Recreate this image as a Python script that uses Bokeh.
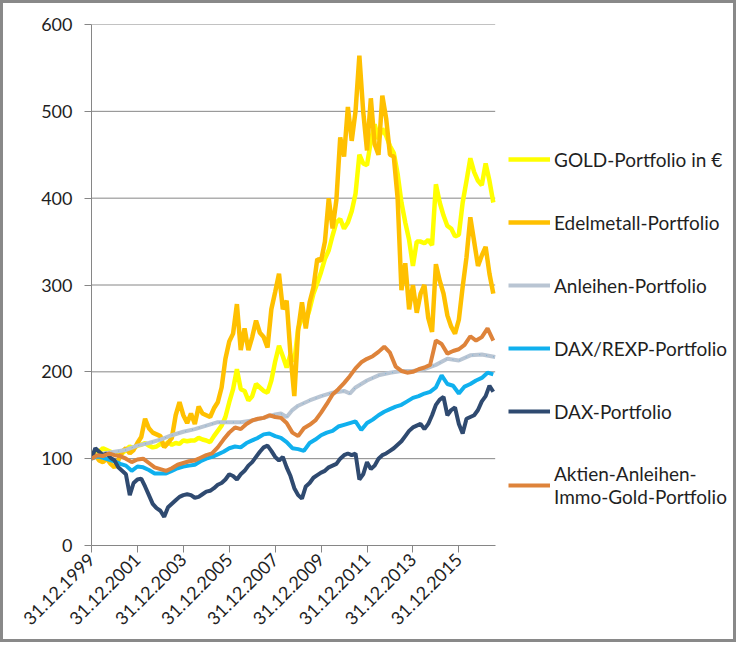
import math
from bokeh.plotting import figure
from bokeh.models import Range1d, FixedTicker, Legend, LegendItem
from bokeh.embed import file_html
from bokeh.resources import INLINE

# ---- data (months since 31.12.1999, index values) ----
tick_months = [0, 24, 48, 72, 96, 120, 144, 168, 192]
tick_labels = ["31.12.1999", "31.12.2001", "31.12.2003", "31.12.2005", "31.12.2007",
               "31.12.2009", "31.12.2011", "31.12.2013", "31.12.2015"]
y_ticks = [0, 100, 200, 300, 400, 500, 600]
x_first, x_last = 0, 211

series_names = ["GOLD-Portfolio in €", "Edelmetall-Portfolio", "Anleihen-Portfolio",
                "DAX/REXP-Portfolio", "DAX-Portfolio", "Aktien-Anleihen-\nImmo-Gold-Portfolio"]

months_2 = list(range(0, 211, 2))
months_3 = list(range(0, 211, 3))

gold = [
    100, 110, 108, 112, 110, 108, 106, 104, 106, 110,
    114, 112, 115, 116, 118, 115, 113, 114, 117, 115,
    119, 116, 118, 117, 121, 120, 121, 121, 124, 122,
    121, 119, 126, 132, 138, 148, 165, 180, 203, 180,
    178, 167, 172, 186, 182, 178, 176, 190, 212, 230,
    218, 205, 220, 212, 250, 262, 258, 272, 290, 302,
    315, 330, 340, 357, 372, 376, 365, 372, 385, 405,
    450, 440, 438, 466, 485, 468, 480, 472, 460, 452,
    428, 395, 372, 352, 322, 350, 350, 348, 352, 346,
    416, 395, 380, 368, 365, 356, 358, 395, 420, 446,
    430, 420, 415, 440, 420, 395]

edel = [
    100, 104, 98, 96, 100, 94, 90, 98, 108, 112,
    106, 110, 118, 125, 146, 135, 130, 128, 126, 113,
    118, 124, 150, 165, 150, 141, 152, 140, 160, 152,
    150, 148, 158, 165, 182, 215, 235, 244, 278, 225,
    250, 225, 240, 259, 245, 240, 228, 272, 292, 313,
    272, 282, 220, 172, 248, 280, 250, 280, 297, 330,
    328, 350, 400, 365, 398, 470, 448, 505, 466, 500,
    564, 500, 455, 515, 462, 450, 518, 492, 450, 448,
    400, 294, 325, 272, 300, 268, 290, 300, 262, 246,
    324, 305, 290, 265, 252, 244, 260, 298, 332, 378,
    350, 322, 334, 344, 313, 290]

anl_months = [0, 6, 12, 18, 24, 30, 36, 42, 48, 54, 60, 66, 72, 78, 84, 90, 96, 99, 102,
              105, 108, 114, 120, 126, 132, 135, 138, 144, 150, 156, 162, 168, 174, 180,
              186, 192, 198, 204, 211]
anleihen = [100, 106, 108, 110, 115, 118, 122, 127, 131, 134,
            138, 142, 142, 142, 144, 147, 151, 152, 148, 156,
            161, 167, 172, 176, 178, 175, 182, 190, 196, 199,
            201, 201, 203, 208, 215, 213, 219, 220, 217]

daxrexp = [
    100, 103, 101, 99, 97, 94, 92, 86, 91, 90,
    87, 83, 83, 83, 86, 89, 91, 92, 93, 97,
    100, 102, 105, 108, 112, 114, 113, 118, 121, 124,
    128, 129, 126, 124, 119, 112, 111, 109, 118, 122,
    127, 130, 132, 137, 139, 141, 143, 133, 141, 145,
    150, 154, 157, 160, 162, 166, 170, 172, 175, 177,
    182, 196, 186, 184, 175, 183, 186, 190, 193, 199,
    197]

dax = [
    100, 112, 108, 104, 106, 101, 98, 90, 86, 82,
    58, 72, 76, 77, 68, 58, 48, 43, 40, 33,
    44, 48, 52, 56, 58, 59, 58, 55, 56, 59,
    62, 63, 66, 70, 72, 76, 82, 80, 76, 82,
    86, 92, 96, 102, 108, 113, 115, 109, 102, 98,
    102, 90, 80, 66, 58, 54, 68, 72, 78, 81,
    84, 86, 90, 92, 94, 100, 104, 106, 104, 106,
    76, 82, 96, 88, 92, 100, 104, 106, 109, 112,
    116, 120, 126, 132, 136, 138, 140, 134, 140, 150,
    162, 168, 171, 150, 156, 159, 140, 129, 146, 148,
    150, 156, 166, 172, 184, 177]

mix = [
    100, 104, 103, 106, 104, 103, 100, 96, 99, 100,
    95, 90, 88, 86, 89, 93, 95, 97, 98, 101,
    104, 106, 113, 122, 130, 136, 134, 140, 144, 146,
    147, 150, 148, 147, 141, 130, 126, 135, 139, 144,
    153, 163, 174, 180, 187, 195, 204, 211, 215, 218,
    223, 229, 222, 206, 201, 199, 200, 203, 205, 208,
    236, 232, 221, 224, 226, 231, 241, 236, 240, 250,
    236]

colors = ["#FFFF00", "#FFC000", "#B9C5D3", "#10B0EE", "#2F4A70", "#DE833A"]

# ---- geometry ----
BORDER = 3
W, H = 730, 636                       # content size; CSS border adds 2*BORDER
canvas_w = W + 2 * BORDER             # size that Bokeh lays out on
left, right, top, bottom = 88, 8, 21, 100
frame_w = canvas_w - left - right
data_px = 403.7                      # pixel width of the dated part of the axis
x_end = x_last * frame_w / data_px   # extra room on the right holds the legend

p = figure(width=W, height=H, output_backend="svg", toolbar_location=None,
           x_range=Range1d(x_first, x_end), y_range=Range1d(0, 600),
           min_border_left=left, min_border_right=right, min_border_top=top,
           min_border_bottom=bottom)
p.styles = {"border": f"{BORDER}px solid #898989", "box-sizing": "content-box"}
p.outline_line_color = None
p.background_fill_color = "white"
p.border_fill_color = "white"
p.xgrid.grid_line_color = None
p.ygrid.grid_line_color = None

p.yaxis.ticker = FixedTicker(ticks=y_ticks)
p.xaxis.ticker = FixedTicker(ticks=tick_months)
p.xaxis.major_label_overrides = {m: l for m, l in zip(tick_months, tick_labels)}
p.xaxis.bounds = (x_first, x_last)

for ax in (p.xaxis[0], p.yaxis[0]):
    ax.axis_line_color = "#868686"
    ax.major_tick_line_color = "#868686"
    ax.major_tick_out = 7
    ax.major_tick_in = 0
    ax.minor_tick_line_color = None
    ax.major_label_text_font = "Lato"
    ax.major_label_text_font_size = "18px"
    ax.major_label_text_color = "#1f1f1f"
p.yaxis.major_label_standoff = 12
p.xaxis.major_label_orientation = math.pi / 4
p.xaxis.major_label_standoff = 4

# horizontal gridlines limited to the dated part of the axis
grid_y = y_ticks[1:]
p.segment(x0=[x_first] * len(grid_y), y0=grid_y, x1=[x_last] * len(grid_y), y1=grid_y,
          line_color="#868686", line_width=1)

r_gold = p.line(months_2, gold, line_color=colors[0], line_width=4.5)
r_edel = p.line(months_2, edel, line_color=colors[1], line_width=4.5)
r_anl = p.line(anl_months, anleihen, line_color=colors[2], line_width=4)
p.line(anl_months, anleihen, line_color="#5FA8D8", line_width=1, line_dash="1 6", line_alpha=0.7)
r_dr = p.line(months_3, daxrexp, line_color=colors[3], line_width=4)
r_dax = p.line(months_2, dax, line_color=colors[4], line_width=4)
r_mix = p.line(months_3, mix, line_color=colors[5], line_width=4)

renderers = [r_gold, r_edel, r_anl, r_dr, r_dax, r_mix]
items = [LegendItem(label=n, renderers=[r]) for n, r in zip(series_names, renderers)]
legend = Legend(items=items, location=(417, 37), margin=0, padding=0,
                border_line_color=None, background_fill_alpha=0,
                glyph_width=42, glyph_height=24, label_height=24,
                label_standoff=4, spacing=39,
                label_text_font="Lato", label_text_font_size="19px",
                label_text_color="#1f1f1f")
p.add_layout(legend)

open("out.html", "w").write(file_html(p, INLINE))
